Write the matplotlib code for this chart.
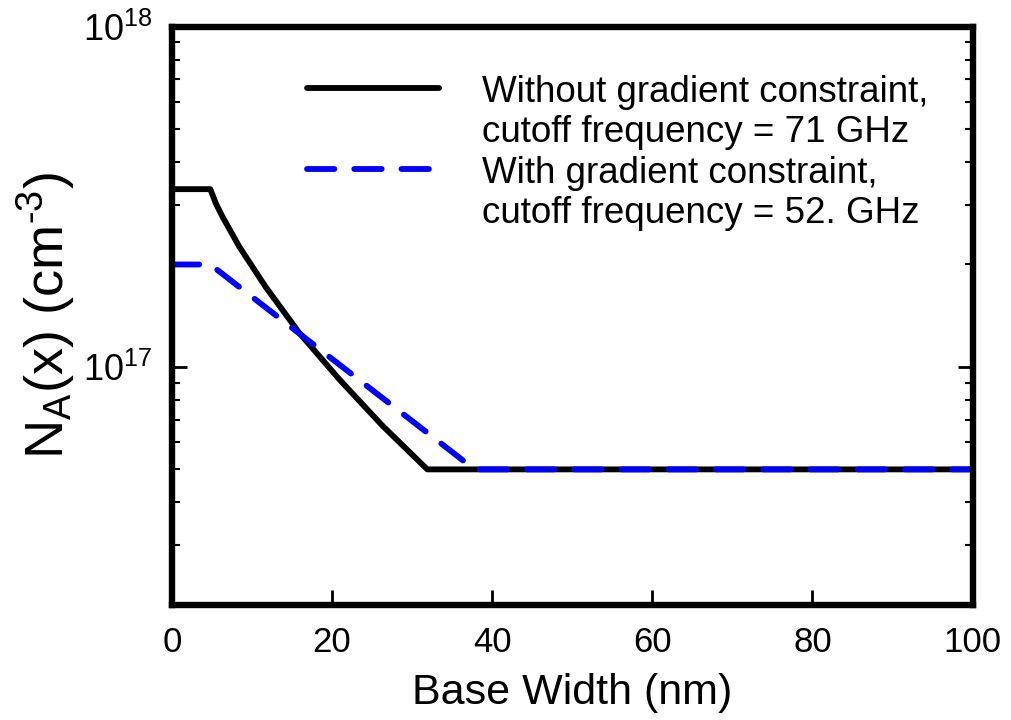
import matplotlib
matplotlib.use("Agg")
import matplotlib.pyplot as plt
from matplotlib.ticker import LogLocator, NullFormatter, MultipleLocator

plt.rcParams['font.family'] = ['Liberation Sans', 'DejaVu Sans']
plt.rcParams['mathtext.fontset'] = 'custom'
plt.rcParams['mathtext.rm'] = 'Liberation Sans'
plt.rcParams['mathtext.it'] = 'Liberation Sans'

# doping profiles along the base (nm, cm^-3)
x_free = [0, 4.8, 5.5, 6.3, 8.4, 11.7, 15.9, 20.9, 26.3, 31.9, 100]
na_free = [3.33e17, 3.33e17, 3.02e17, 2.77e17, 2.26e17, 1.72e17, 1.26e17,
           9.2e16, 6.72e16, 5.0e16, 5.0e16]

x_grad = [0, 4.8, 37.8, 100]
na_grad = [2.0e17, 2.0e17, 5.0e16, 5.0e16]

labels = ["Without gradient constraint,\ncutoff frequency = 71 GHz",
          "With gradient constraint,\ncutoff frequency = 52. GHz"]

fig = plt.figure(figsize=(10.11, 7.2), dpi=100)
ax = fig.add_axes([0.170, 0.160, 0.792, 0.803])

lw = 4.2
dash = (4.7, 3.4)
ax.plot(x_free, na_free, color='black', lw=lw, solid_joinstyle='round')
ax.plot(x_grad, na_grad, color='#0000ff', lw=lw, dashes=dash,
        dash_capstyle='round')

ax.set_yscale('log')
ax.set_xlim(0, 100)
ax.set_ylim(2e16, 1e18)

ax.xaxis.set_major_locator(MultipleLocator(20))
ax.yaxis.set_major_locator(LogLocator(base=10, numticks=10))
ax.yaxis.set_minor_locator(LogLocator(base=10, subs=range(2, 10), numticks=20))
ax.yaxis.set_minor_formatter(NullFormatter())

for s in ax.spines.values():
    s.set_linewidth(4.6)

ax.tick_params(axis='x', which='major', direction='in', length=11, width=2,
               labelsize=25, pad=15, top=False, bottom=True)
ax.tick_params(axis='y', which='major', direction='in', length=11, width=2,
               labelsize=26, pad=14, left=True, right=True)
ax.tick_params(axis='y', which='minor', direction='in', length=6, width=1.5,
               left=True, right=True)

ax.set_xlabel('Base Width (nm)', fontsize=31, labelpad=10)
# hyphen (U+2010) keeps the exponent sign short
ax.set_ylabel('N$_\\mathregular{A}$(x) (cm$^\\mathregular{\u20103}$)',
              fontsize=39, labelpad=4)

# legend drawn by hand so each handle sits beside the first line of its entry
tr = ax.transAxes
ax.plot([0.169, 0.333], [0.894, 0.894], color='black', lw=lw,
        solid_capstyle='round', transform=tr, clip_on=False)
ax.plot([0.169, 0.330], [0.753, 0.753], color='#0000ff', lw=lw,
        dashes=dash, dash_capstyle='round', transform=tr, clip_on=False)
baselines = [0.870, 0.801, 0.730, 0.661]
lines = labels[0].split('\n') + labels[1].split('\n')
for yb, txt in zip(baselines, lines):
    ax.text(0.387, yb, txt, transform=tr, fontsize=26.5, va='baseline',
            ha='left')

fig.savefig('out.png', dpi=100)
